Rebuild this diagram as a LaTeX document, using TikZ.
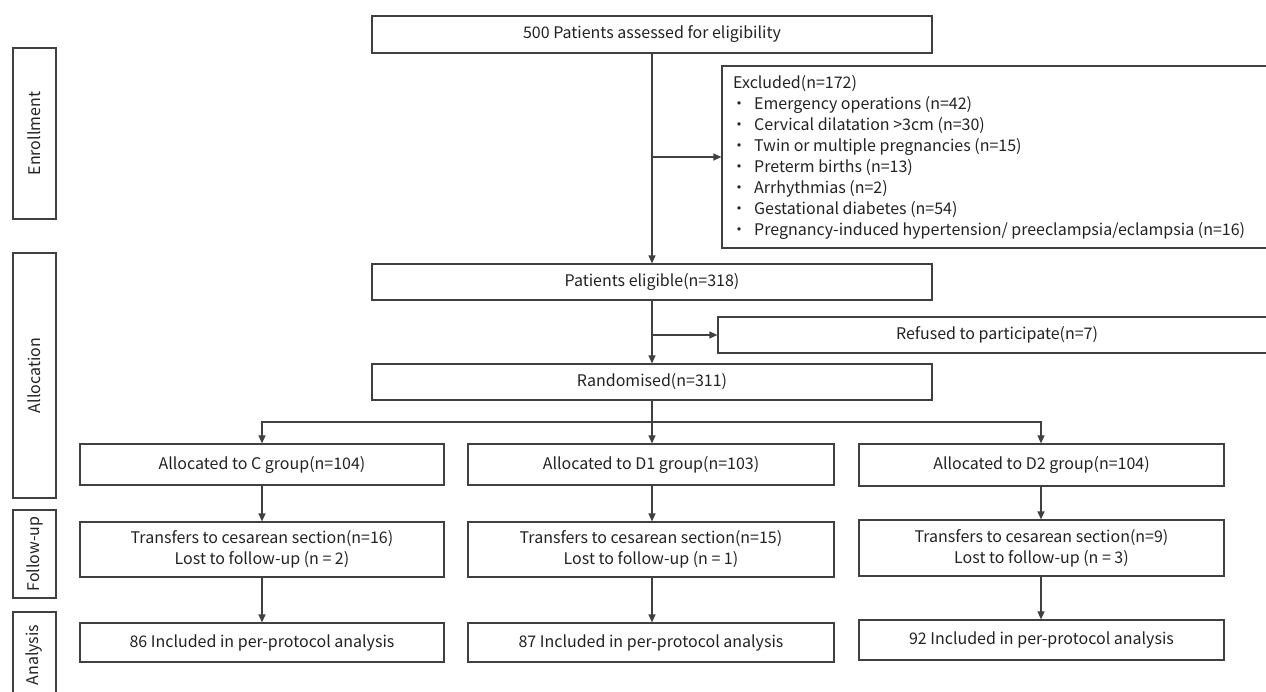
\documentclass[tikz,border=0pt]{standalone}
\usepackage{fontspec}
\setmainfont{Noto Sans CJK SC}
\usetikzlibrary{arrows.meta}
\definecolor{ln}{HTML}{404040}
\definecolor{tx}{HTML}{222222}
\begin{document}
\begin{tikzpicture}[x=1pt,y=-1pt,
  box/.style={draw=ln, line width=1.2pt, text=tx, font=\fontsize{16}{21}\selectfont, inner sep=0pt, align=center},
  arr/.style={draw=ln, line width=1.3pt, -{Triangle[length=8pt,width=7pt]}},
  lbl/.style={text=tx, font=\fontsize{16}{21}\selectfont, inner sep=0pt}
  ]
\useasboundingbox (0,0) rectangle (1266,691);
% side labels
\node[box, minimum width=43pt, minimum height=171pt] (enr) at (34.5,133.5) {};
\node[lbl, rotate=90] (enrt) at (enr.center) {Enrollment};
\node[box, minimum width=43pt, minimum height=245pt] (alc) at (34.5,375.5) {};
\node[lbl, rotate=90] (alct) at (alc.center) {Allocation};
\node[box, minimum width=43pt, minimum height=88pt] (fol) at (34.5,554) {};
\node[lbl, rotate=90] (folt) at (fol.center) {Follow-up};
\node[box, minimum width=43pt, minimum height=86pt] (ana) at (34.5,655) {};
\node[lbl, rotate=90] (anat) at (ana.center) {Analysis};
% main column
\node[box, minimum width=560pt, minimum height=37pt] (top) at (652,34.5) {500 Patients assessed for eligibility};
\node[box, minimum width=552pt, minimum height=182pt] (excl) at (998,157) {};
\node[lbl, anchor=north west, align=left] (exclt) at (733,75) {Excluded(n=172)\\
\makebox[21pt][l]{\hspace{-2pt}•}Emergency operations (n=42)\\
\makebox[21pt][l]{\hspace{-2pt}•}Cervical dilatation >3cm (n=30)\\
\makebox[21pt][l]{\hspace{-2pt}•}Twin or multiple pregnancies (n=15)\\
\makebox[21pt][l]{\hspace{-2pt}•}Preterm births (n=13)\\
\makebox[21pt][l]{\hspace{-2pt}•}Arrhythmias (n=2)\\
\makebox[21pt][l]{\hspace{-2pt}•}Gestational diabetes (n=54)\\
\makebox[21pt][l]{\hspace{-2pt}•}Pregnancy-induced hypertension/ preeclampsia/eclampsia (n=16)};
\node[box, minimum width=560pt, minimum height=36pt] (elig) at (652,282) {Patients eligible(n=318)};
\node[box, minimum width=558pt, minimum height=36pt] (ref) at (997,335) {Refused to participate(n=7)};
\node[box, minimum width=560pt, minimum height=36pt] (rand) at (652,382) {Randomised(n=311)};
% groups
\node[box, minimum width=364pt, minimum height=41pt] (ca) at (262,464.5) {Allocated to C group(n=104)};
\node[box, minimum width=366pt, minimum height=41pt] (da) at (651,464.5) {Allocated to D1 group(n=103)};
\node[box, minimum width=365pt, minimum height=42pt] (ea) at (1041.5,465) {Allocated to D2 group(n=104)};
\node[box, minimum width=364pt, minimum height=55pt] (cf) at (262,549.5) {Transfers to cesarean section(n=16)\\Lost to follow-up (n = 2)};
\node[box, minimum width=366pt, minimum height=55pt] (df) at (651,549.5) {Transfers to cesarean section(n=15)\\Lost to follow-up (n = 1)};
\node[box, minimum width=365pt, minimum height=56pt] (ef) at (1041.5,548) {Transfers to cesarean section(n=9)\\Lost to follow-up (n = 3)};
\node[box, minimum width=364pt, minimum height=39pt] (cn) at (262,642.5) {86 Included in per-protocol analysis};
\node[box, minimum width=366pt, minimum height=39pt] (dn) at (651,642.5) {87 Included in per-protocol analysis};
\node[box, minimum width=365pt, minimum height=40pt] (en) at (1041.5,640) {92 Included in per-protocol analysis};
% connectors
\coordinate (br) at (652,422);
\coordinate (bl) at (262,422);
\coordinate (bre) at (1041,422);
\draw[arr] (top.south) -- (elig.north);
\draw[arr] (top.south |- excl.west) -- (excl.west);
\draw[arr] (elig.south) -- (rand.north);
\draw[arr] (elig.south |- ref.west) -- (ref.west);
\draw[arr] (rand.south) -- (rand.south |- da.north);
\draw[arr] (br) -- (bl) -- (bl |- ca.north);
\draw[arr] (br) -- (bre) -- (bre |- ea.north);
\draw[arr] (ca.south) -- (cf.north);
\draw[arr] (rand.south |- da.south) -- (rand.south |- df.north);
\draw[arr] (bre |- ea.south) -- (bre |- ef.north);
\draw[arr] (cf.south) -- (cn.north);
\draw[arr] (rand.south |- df.south) -- (rand.south |- dn.north);
\draw[arr] (bre |- ef.south) -- (bre |- en.north);
\end{tikzpicture}
\end{document}
